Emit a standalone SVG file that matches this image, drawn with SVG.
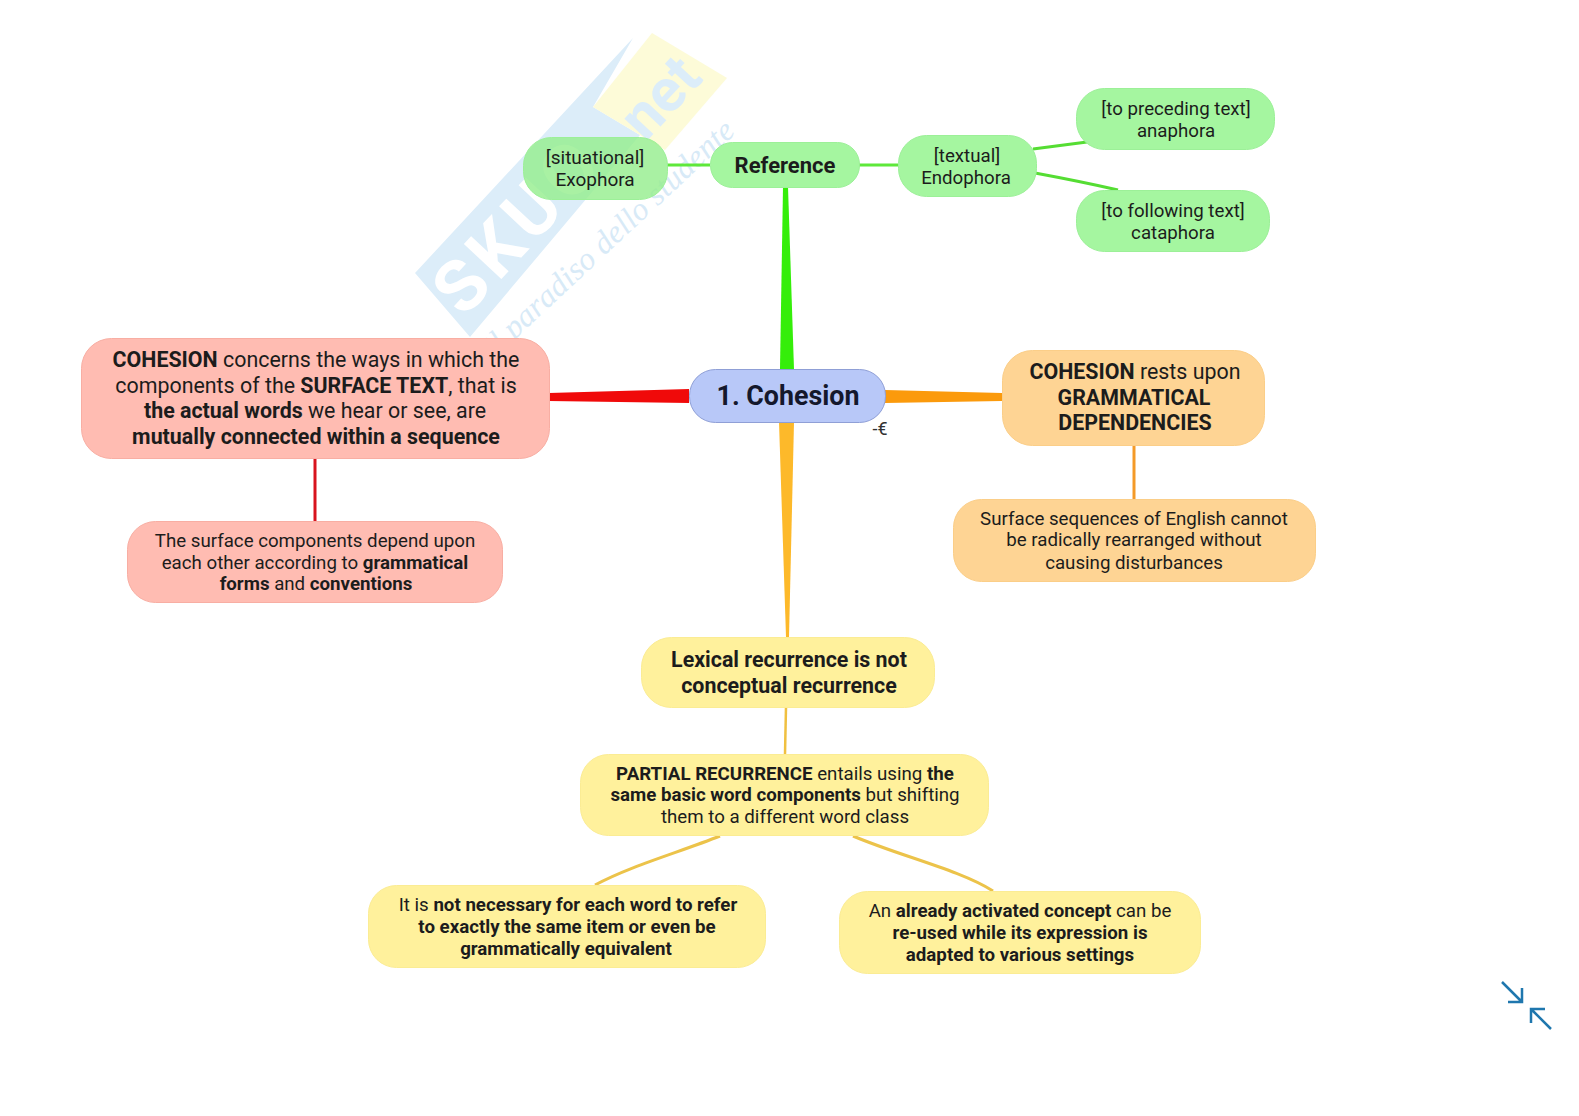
<svg xmlns="http://www.w3.org/2000/svg" width="1579" height="1116" viewBox="0 0 1579 1116">
<style>
text{font-family:Roboto,"Liberation Sans",sans-serif;text-anchor:middle;fill:#1c1c1c}
.s{font-size:18.7px}.m{font-size:21.4px}
.b,tspan.b{font-weight:700}
.g{fill:#a5f6a0;stroke:#9cf098}.r{fill:#ffbcb2;stroke:#f8aea3}.o{fill:#fed494;stroke:#fbce88}.y{fill:#fff19c;stroke:#fbec94}
.c{fill:#b8c8f8;stroke:#8f9fd6}
.wm{text-anchor:start}
</style>
<rect width="1579" height="1116" fill="#fff"/>
<g id="watermark">
<path d="M415 273L633 38L593 107L640 135L470 337Z" fill="#dcedf9"/>
<path d="M593 107L652 33L727 78L665 150Z" fill="#fdfbd8"/>
<text class="wm" transform="translate(464 319) rotate(-47)" font-size="72" font-weight="700" letter-spacing="6" style="fill:#fff">SKUO</text>
<text transform="translate(675 111) rotate(-47)" font-size="60" font-weight="700" style="fill:#dcedf9">net</text>
<text class="wm" transform="translate(495 358) rotate(-43)" font-size="32" textLength="330" style="fill:#d8eaf7;font-family:'Liberation Serif',serif;font-style:italic">il paradiso dello studente</text>
</g>
<g id="connectors" fill="none">
<path d="M783 187H788L794 369H780Z" fill="#35ee0a"/>
<path d="M667 165H710M859 165H898" stroke="#5ee83a" stroke-width="3"/>
<path d="M1033 149L1087 142M1035 173C1062 178 1092 184 1118 190" stroke="#55dd33" stroke-width="3"/>
<path d="M549 393L689 389V403L549 401Z" fill="#f00a0a"/>
<path d="M885 390L1002 393V401L885 403Z" fill="#fb9a0c"/>
<path d="M779 422H794L789 637H786Z" fill="#fdb92a"/>
<path d="M786 707L785 754" stroke="#f0c040" stroke-width="2.500"/>
<path d="M315 458V521" stroke="#d8141e" stroke-width="3"/>
<path d="M1134 445V499" stroke="#f49a28" stroke-width="3"/>
<path d="M720 836C680 852 630 866 595 885M853 836C900 856 960 870 993 891" stroke="#ecc34a" stroke-width="3"/>
</g>
<g id="n-reference"><rect class="g" x="710.500" y="142.500" width="149" height="45" rx="22"/><text class="b" font-size="22" x="785" y="172.500">Reference</text></g>
<g id="n-exophora"><rect class="g" x="523.500" y="137.500" width="144" height="62" rx="28" style="fill:#94ee8c;fill-opacity:.8"/><text class="s" x="595" y="163.500" style="font-size:19px">[situational]</text><text class="s" x="595" y="185.500" style="font-size:19px">Exophora</text></g>
<g id="n-endophora"><rect class="g" x="898.500" y="135.500" width="138" height="61" rx="28"/><text class="s" x="967" y="161.500">[textual]</text><text class="s" x="966" y="183.500">Endophora</text></g>
<g id="n-anaphora"><rect class="g" x="1076.500" y="88.500" width="198" height="61" rx="28"/><text class="s" x="1176" y="115">[to preceding text]</text><text class="s" x="1176" y="137">anaphora</text></g>
<g id="n-cataphora"><rect class="g" x="1076.500" y="190.500" width="193" height="61" rx="28"/><text class="s" x="1173" y="217">[to following text]</text><text class="s" x="1173" y="239">cataphora</text></g>
<g id="n-center"><rect class="c" x="689.500" y="369.500" width="196" height="53" rx="26"/><text x="788" y="405" font-size="26.800" font-weight="700" style="fill:#14182c">1. Cohesion</text></g>
<g id="n-cohesion-surface"><rect class="r" x="81.500" y="338.500" width="468" height="120" rx="30"/>
<text class="m" x="316" y="367"><tspan class="b">COHESION</tspan> concerns the ways in which the</text>
<text class="m" x="316" y="393">components of the <tspan class="b">SURFACE TEXT</tspan>, that is</text>
<text class="m" x="315" y="418"><tspan class="b">the actual words</tspan> we hear or see, are</text>
<text class="m b" x="316" y="444">mutually connected within a sequence</text></g>
<g id="n-surface-components"><rect class="r" x="127.500" y="521.500" width="375" height="81" rx="28"/>
<text class="s" x="315" y="547">The surface components depend upon</text>
<text class="s" x="315" y="569">each other according to <tspan class="b">grammatical</tspan></text>
<text class="s" x="316" y="590"><tspan class="b">forms</tspan> and <tspan class="b">conventions</tspan></text></g>
<g id="n-cohesion-grammar"><rect class="o" x="1002.500" y="350.500" width="262" height="95" rx="30"/>
<text class="m" x="1135" y="379"><tspan class="b">COHESION</tspan> rests upon</text>
<text class="m b" x="1134" y="405">GRAMMATICAL</text>
<text class="m b" x="1135" y="430">DEPENDENCIES</text></g>
<g id="n-surface-sequences"><rect class="o" x="953.500" y="499.500" width="362" height="82" rx="28"/>
<text class="s" x="1134" y="525">Surface sequences of English cannot</text>
<text class="s" x="1134" y="546">be radically rearranged without</text>
<text class="s" x="1134" y="569">causing disturbances</text></g>
<g id="n-lexical"><rect class="y" x="641.500" y="637.500" width="293" height="70" rx="30"/>
<text class="m b" x="789" y="667">Lexical recurrence is not</text>
<text class="m b" x="789" y="693">conceptual recurrence</text></g>
<g id="n-partial"><rect class="y" x="580.500" y="754.500" width="408" height="81" rx="28"/>
<text class="s" x="785" y="780"><tspan class="b">PARTIAL RECURRENCE</tspan> entails using <tspan class="b">the</tspan></text>
<text class="s" x="785" y="801"><tspan class="b">same basic word components</tspan> but shifting</text>
<text class="s" x="785" y="823">them to a different word class</text></g>
<g id="n-not-necessary"><rect class="y" x="368.500" y="885.500" width="397" height="82" rx="28"/>
<text class="s" x="568" y="911">It is <tspan class="b">not necessary for each word to refer</tspan></text>
<text class="s" x="567" y="933"><tspan class="b">to exactly the same item or even be</tspan></text>
<text class="s b" x="566" y="955">grammatically equivalent</text></g>
<g id="n-already"><rect class="y" x="839.500" y="891.500" width="361" height="82" rx="28"/>
<text class="s" x="1020" y="917">An <tspan class="b">already activated concept</tspan> can be</text>
<text class="s" x="1020" y="939"><tspan class="b">re-used while its expression is</tspan></text>
<text class="s b" x="1020" y="961">adapted to various settings</text></g>
<text x="880" y="435" font-size="18" style="fill:#333">-€</text>
<g fill="none" stroke="#1f77ae" stroke-width="2.500">
<path d="M1502 982L1522 1002M1522 988V1002H1508M1551 1029L1531 1009M1531 1023V1009H1545"/>
</g>
</svg>
